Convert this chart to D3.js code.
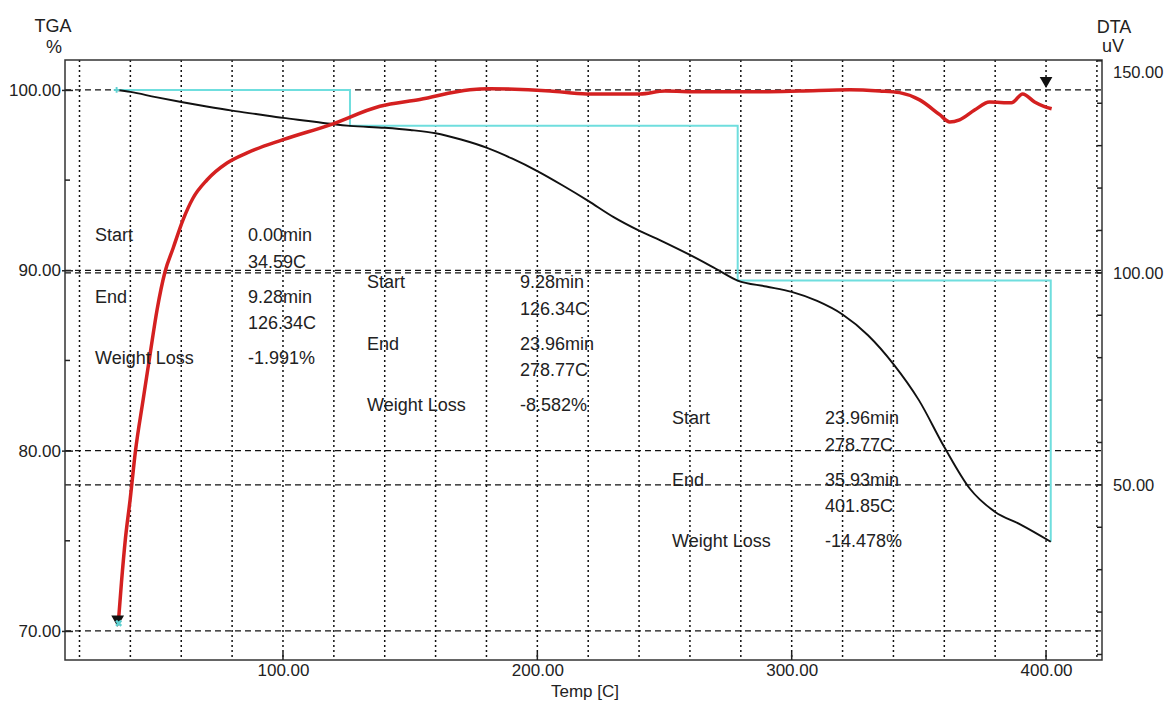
<!DOCTYPE html>
<html>
<head>
<meta charset="utf-8">
<script src="https://cdn.jsdelivr.net/npm/d3@7"></script>
<style>
  body { margin: 0; background: #fff; }
  text { font-family: "Liberation Sans", Arial, sans-serif; fill: #222; }
  .tick-label { font-size: 17px; }
  .note { font-size: 18px; }
  .title { font-size: 18px; }
</style>
</head>
<body>
<svg width="1168" height="702"></svg>
<script>
// TGA curve (temp C, weight %)
const tgaTemp = [34.59, 40, 50, 60, 70, 80, 90, 100, 110, 120, 126.34, 140, 150, 160, 170, 180, 190, 200,
  210, 220, 230, 240, 250, 260, 270, 278.77, 290, 300, 310, 320, 330, 340, 350, 360, 370, 380, 390, 401.85];
const tgaWeight = [100.0, 99.89, 99.6, 99.33, 99.08, 98.85, 98.65, 98.45, 98.28, 98.1, 98.01, 97.9, 97.78, 97.6,
  97.25, 96.8, 96.2, 95.5, 94.7, 93.85, 92.95, 92.2, 91.55, 90.85, 90.1, 89.43, 89.1, 88.8, 88.3, 87.55, 86.4,
  84.8, 82.8, 80.2, 77.9, 76.6, 75.9, 74.95];

// DTA curve (temp C, uV)
const dtaTemp = [35.2, 36.5, 38.0, 39.9, 42.0, 45.0, 47.8, 50.5, 53.6, 56.8, 60.7, 64.6, 70.1, 78.0, 85.9, 100,
  118.5, 138.1, 153.8, 173.5, 181.3, 205, 219.4, 240.3, 250.1, 263.9, 281.5, 303.1, 322.8, 334.6, 342.4,
  350.3, 358.2, 362.1, 366, 371.9, 377.8, 386.4, 390.8, 395.5, 399.4, 402.2];
const dtaSignal = [17, 27, 37, 46.5, 58, 70, 81, 91.3, 100.2, 105.8, 112.5, 117.6, 121.9, 125.9, 128.3, 131.4,
  134.9, 139.3, 140.9, 143.2, 143.4, 142.9, 142.2, 142.2, 142.9, 142.7, 142.7, 142.9, 143.2, 142.9, 142.5,
  140.8, 137.3, 135.6, 136.1, 138.4, 140.3, 140.1, 142.2, 140.3, 139.2, 138.7];

// weight-loss steps
const stepTemp = [34.59, 126.34, 278.77, 401.85];
const stepWeight = [100.0, 98.009, 89.427, 74.949];

// analysis markers on the DTA curve
const markerTemp = [35.0, 400.0];
const markerSignal = [18.3, 145.3];

// tick values
const xTicks = [100, 200, 300, 400];
const xGrid = d3.range(20, 421, 20);
const leftTicks = [70, 80, 90, 100];
const leftMinor = [75, 85, 95];
const rightTicks = [50, 100, 150];
const rightMinor = d3.range(10, 151, 10);
const rightGrid = [50, 100];

// annotation blocks
const noteStartMin = ["0.00min", "9.28min", "23.96min"];
const noteStartTemp = ["34.59C", "126.34C", "278.77C"];
const noteEndMin = ["9.28min", "23.96min", "35.93min"];
const noteEndTemp = ["126.34C", "278.77C", "401.85C"];
const noteLoss = ["-1.991%", "-8.582%", "-14.478%"];

const svg = d3.select("svg");
const width = +svg.attr("width");
const height = +svg.attr("height");

const margin = { top: 60, right: 66, bottom: 42, left: 65 };
const innerWidth = width - margin.left - margin.right;
const innerHeight = height - margin.top - margin.bottom;

const x = d3.scaleLinear().domain([14.3, 422]).range([0, innerWidth]);
const yL = d3.scaleLinear().domain([68.39, 101.66]).range([innerHeight, 0]);
const yR = d3.scaleLinear().domain([8.7, 150.2]).range([innerHeight, 0]);

const g = svg.append("g").attr("transform", `translate(${margin.left},${margin.top})`);

// grid
g.append("g").selectAll("line").data(xGrid).enter().append("line")
  .attr("x1", d => x(d)).attr("x2", d => x(d))
  .attr("y1", 0).attr("y2", innerHeight)
  .attr("stroke", "#111").attr("stroke-width", 1.5).attr("stroke-dasharray", "2,3");

g.append("g").selectAll("line").data(leftTicks).enter().append("line")
  .attr("x1", 0).attr("x2", innerWidth)
  .attr("y1", d => yL(d)).attr("y2", d => yL(d))
  .attr("stroke", "#111").attr("stroke-width", 1.3).attr("stroke-dasharray", "6,4");

g.append("g").selectAll("line").data(rightGrid).enter().append("line")
  .attr("x1", 0).attr("x2", innerWidth)
  .attr("y1", d => yR(d)).attr("y2", d => yR(d))
  .attr("stroke", "#111").attr("stroke-width", 1.3).attr("stroke-dasharray", "6,4");

// frame
g.append("rect").attr("width", innerWidth).attr("height", innerHeight)
  .attr("fill", "none").attr("stroke", "#333").attr("stroke-width", 1.5);

// left axis
const leftAxis = d3.axisLeft(yL).tickValues(leftTicks).tickFormat(d3.format(".2f")).tickSize(8).tickPadding(2);
const la = g.append("g").call(leftAxis);
la.select(".domain").remove();
la.selectAll(".tick line").attr("x2", 8).attr("x1", -3).attr("stroke", "#222").attr("stroke-width", 1.5);
la.selectAll("text").attr("class", "tick-label").attr("x", -4).style("font-size", "17px");

g.append("g").selectAll("line").data(leftMinor).enter().append("line")
  .attr("x1", 0).attr("x2", 5).attr("y1", d => yL(d)).attr("y2", d => yL(d))
  .attr("stroke", "#222").attr("stroke-width", 1.5);

// right axis
g.append("g").selectAll("line").data(rightMinor).enter().append("line")
  .attr("x1", innerWidth - 5).attr("x2", innerWidth).attr("y1", d => yR(d)).attr("y2", d => yR(d))
  .attr("stroke", "#222").attr("stroke-width", 1.5);

g.append("g").selectAll("text").data(rightTicks).enter().append("text")
  .attr("class", "tick-label")
  .attr("x", innerWidth + 11)
  .attr("y", d => Math.max(yR(d), 12))
  .attr("dy", "0.35em")
  .style("font-size", "16.5px")
  .text(d3.format(".2f"));

// bottom axis
const xAxis = d3.axisBottom(x).tickValues(xTicks).tickFormat(d3.format(".2f")).tickSize(0).tickPadding(4);
const xa = g.append("g").attr("transform", `translate(0,${innerHeight})`).call(xAxis);
xa.select(".domain").remove();
xa.selectAll("text").attr("class", "tick-label").style("font-size", "17px");
g.append("g").selectAll("line").data(xTicks).enter().append("line")
  .attr("x1", d => x(d)).attr("x2", d => x(d)).attr("y1", innerHeight - 8).attr("y2", innerHeight)
  .attr("stroke", "#222").attr("stroke-width", 1.5);

// titles
svg.append("text").attr("class", "title").attr("x", 53).attr("y", 26).attr("dy", "0.35em")
  .attr("text-anchor", "middle").text("TGA");
svg.append("text").attr("class", "title").attr("x", 54).attr("y", 47).attr("dy", "0.35em")
  .attr("text-anchor", "middle").text("%");
svg.append("text").attr("class", "title").attr("x", 1114).attr("y", 27).attr("dy", "0.35em")
  .attr("text-anchor", "middle").text("DTA");
svg.append("text").attr("class", "title").attr("x", 1113).attr("y", 46).attr("dy", "0.35em")
  .attr("text-anchor", "middle").text("uV");
svg.append("text").attr("class", "title").attr("x", 585).attr("y", 697)
  .attr("text-anchor", "middle").style("font-size", "17px").text("Temp  [C]");

// step line
const stepPts = [];
stepTemp.forEach((t, i) => {
  if (i > 0) stepPts.push([t, stepWeight[i - 1]]);
  stepPts.push([t, stepWeight[i]]);
});
g.append("path")
  .attr("d", d3.line().x(d => x(d[0])).y(d => yL(d[1]))(stepPts))
  .attr("fill", "none").attr("stroke", "#6fdede").attr("stroke-width", 2);

// TGA curve
g.append("path")
  .attr("d", d3.line().x((d, i) => x(tgaTemp[i])).y(d => yL(d)).curve(d3.curveMonotoneX)(tgaWeight))
  .attr("fill", "none").attr("stroke", "#111").attr("stroke-width", 1.9);

// DTA curve
g.append("path")
  .attr("d", d3.line().x((d, i) => x(dtaTemp[i])).y(d => yR(d)).curve(d3.curveMonotoneX)(dtaSignal))
  .attr("fill", "none").attr("stroke", "#d42020").attr("stroke-width", 3.5)
  .attr("stroke-linejoin", "round");

// markers
const tri = d3.symbol().type(d3.symbolTriangle).size(70);
g.append("g").selectAll("path").data(markerTemp).enter().append("path")
  .attr("d", tri)
  .attr("transform", (d, i) => `translate(${x(d)},${yR(markerSignal[i])}) rotate(180)`)
  .attr("fill", "#111");
g.append("path")
  .attr("d", d3.symbol().type(d3.symbolCross).size(30))
  .attr("transform", `translate(${x(markerTemp[0]) + 1},${yR(markerSignal[0]) + 4}) rotate(45)`)
  .attr("fill", "#5fd0d0");
g.append("path")
  .attr("d", d3.symbol().type(d3.symbolCross).size(18))
  .attr("transform", `translate(${x(stepTemp[0])},${yL(stepWeight[0])})`)
  .attr("fill", "#5fd0d0");

// annotation blocks (layout offsets in px)
const blockPos = [[30, 175], [302, 222], [607, 358]];
const colGap = 153;
const rowOff = [0, 27, 62, 88, 123];
blockPos.forEach((p, i) => {
  const b = g.append("g").attr("transform", `translate(${p[0]},${p[1]})`);
  const rows = [
    ["Start", noteStartMin[i]],
    [null, noteStartTemp[i]],
    ["End", noteEndMin[i]],
    [null, noteEndTemp[i]],
    ["Weight Loss", noteLoss[i]]
  ];
  rows.forEach((r, j) => {
    if (r[0]) {
      b.append("text").attr("class", "note").attr("x", 0).attr("y", rowOff[j]).attr("dy", "0.35em").text(r[0]);
    }
    b.append("text").attr("class", "note").attr("x", colGap).attr("y", rowOff[j]).attr("dy", "0.35em").text(r[1]);
  });
});
</script>
</body>
</html>
